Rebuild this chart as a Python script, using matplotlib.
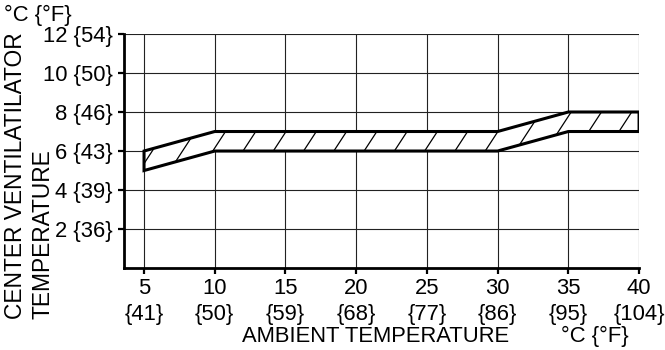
import numpy as np
import matplotlib
matplotlib.use("Agg")
import matplotlib.pyplot as plt
from matplotlib.patches import Polygon
from matplotlib.collections import LineCollection

plt.rcParams['font.family'] = ['Liberation Sans', 'DejaVu Sans']
plt.rcParams['font.size'] = 15.8

# Ambient temperature (°C) and the allowed band of center ventilator temperature (°C)
ambient_c = [5, 10, 30, 35, 40]
band_upper = [6, 7, 7, 8, 8]
band_lower = [5, 6, 6, 7, 7]

x_ticks = [5, 10, 15, 20, 25, 30, 35, 40]
x_tick_f = ['{41}', '{50}', '{59}', '{68}', '{77}', '{86}', '{95}', '{104}']
y_ticks = [2, 4, 6, 8, 10, 12]
y_tick_labels = ['2 {36}', '4 {39}', '6 {43}', '8 {46}', '10 {50}', '12 {54}']

fig = plt.figure(figsize=(6.65, 3.5), dpi=100)
ax = fig.add_axes([0.1865, 0.234, 0.961 - 0.1865, 0.903 - 0.234])

ax.set_xlim(3.585, 40)
ax.set_ylim(0, 12)

# grid
ax.set_xticks(x_ticks)
ax.set_yticks(y_ticks)
ax.grid(True, color='#222222', linewidth=0.8)
ax.set_axisbelow(True)

for side in ('top', 'right'):
    ax.spines[side].set_visible(False)
for side in ('left', 'bottom'):
    ax.spines[side].set_linewidth(2.0)
    ax.spines[side].set_color('black')

ax.set_xticklabels([f'{c}\n{f}' for c, f in zip(x_ticks, x_tick_f)], linespacing=1.35)
ax.set_yticklabels(y_tick_labels)
ax.tick_params(axis='both', length=4.5, width=1.6, color='black', pad=3.5)
ax.tick_params(axis='x', pad=2.5)

# band outline
xs = np.asarray(ambient_c, float)
verts = np.column_stack([np.r_[xs, xs[::-1]],
                         np.r_[band_upper, band_lower[::-1]]])
band = Polygon(verts, closed=True, facecolor='white', edgecolor='none',
               zorder=3)
ax.add_patch(band)

# diagonal hatching clipped to the band
slope = 0.9      # x offset per unit of y
spacing = 2.14   # horizontal gap between hatch lines
start = 12.0 - slope * 6
segs = []
for c in np.arange(start - 20 * spacing, start + 20 * spacing, spacing):
    y0, y1 = 3.0, 10.0
    segs.append([(c + slope * y0, y0), (c + slope * y1, y1)])
hatch = LineCollection(segs, colors='black', linewidths=0.9, zorder=4)
hatch.set_clip_path(band)
ax.add_collection(hatch)

outline = Polygon(verts, closed=True, fill=False, edgecolor='black',
                  linewidth=2.2, joinstyle='miter', zorder=5)
ax.add_patch(outline)

# labels
fig.text(376 / 665, 1 - 336 / 350, 'AMBIENT TEMPERATURE', ha='center', va='center')
fig.text(595 / 665, 1 - 336 / 350, '°C {°F}', ha='center', va='center')
fig.text(4 / 665, 1 - 15 / 350, '°C {°F}', ha='left', va='center')
fig.text(16 / 665, 1 - 319 / 350, 'CENTER VENTILATILATOR', rotation=90,
         ha='center', va='bottom', fontsize=16.4)
fig.text(43 / 665, 1 - 319 / 350, 'TEMPERATURE', rotation=90,
         ha='center', va='bottom', fontsize=16.4)

fig.savefig('out.png', dpi=100)
